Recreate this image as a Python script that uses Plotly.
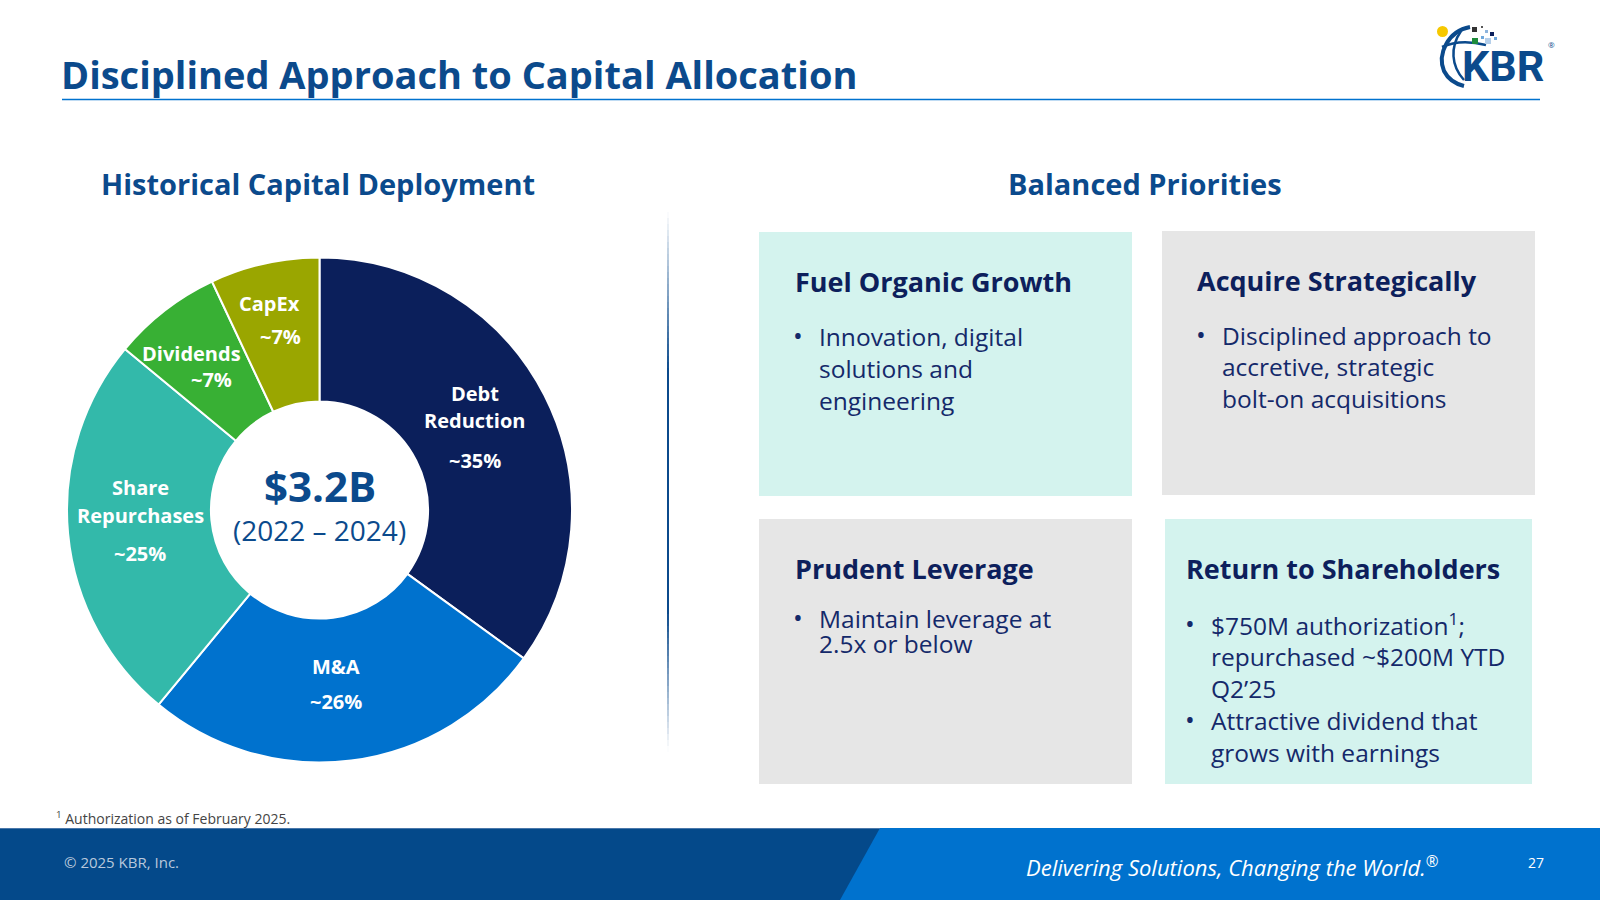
import plotly.graph_objects as go

# ---------------- data ----------------
categories = ["Debt Reduction", "M&A", "Share Repurchases", "Dividends", "CapEx"]
shares = [35, 26, 25, 7, 7]
pct_labels = ["~35%", "~26%", "~25%", "~7%", "~7%"]
slice_colors = ["#0B1F5B", "#0072CE", "#33B9AA", "#38B034", "#9AA600"]
total_label = "$3.2B"
period_label = "(2022 – 2024)"

title_text = "Disciplined Approach to Capital Allocation"
left_heading = "Historical Capital Deployment"
right_heading = "Balanced Priorities"

box_titles = ["Fuel Organic Growth", "Acquire Strategically", "Prudent Leverage", "Return to Shareholders"]
box_bullets = [
    [["Innovation, digital", "solutions and", "engineering"]],
    [["Disciplined approach to", "accretive, strategic", "bolt-on acquisitions"]],
    [["Maintain leverage at", "2.5x or below"]],
    [["$750M authorization<sup>1</sup>;", "repurchased ~$200M YTD", "Q2’25"],
     ["Attractive dividend that", "grows with earnings"]],
]
footnote = "<sup>1</sup> Authorization as of February 2025."
copyright_text = "© 2025 KBR, Inc."
tagline = "<i>Delivering Solutions, Changing the World.<sup>®</sup></i>"
page_no = "27"

# ---------------- styles ----------------
FONT = "Open Sans"
BLUE = "#0B4A8C"
NAVY = "#0D1F5C"
TEXT_NAVY = "#14296A"
MINT = "#D4F3EE"
GRAY = "#E6E6E6"

W, H = 1600, 900
cx, cy, R = 319.5, 510.0, 252.5

fig = go.Figure()

fig.add_trace(go.Pie(
    labels=categories,
    values=shares,
    sort=False,
    direction="clockwise",
    rotation=0,
    hole=0.43,
    marker=dict(colors=slice_colors, line=dict(color="white", width=2)),
    textinfo="none",
    hoverinfo="label+percent",
    showlegend=False,
    domain=dict(x=[(cx - R) / W, (cx + R) / W], y=[1 - (cy + R) / H, 1 - (cy - R) / H]),
))

shapes = []
annotations = []


def txt(x, y, text, size, color, bold=False, xanchor="center", yanchor="middle", family=FONT):
    if bold:
        text = "<b>" + text + "</b>"
    annotations.append(dict(
        x=x, y=y, xref="x", yref="y", text=text, showarrow=False,
        xanchor=xanchor, yanchor=yanchor,
        font=dict(family=family, size=size, color=color),
    ))


def rect(x0, y0, x1, y1, color, layer="below"):
    shapes.append(dict(type="rect", xref="x", yref="y", x0=x0, y0=y0, x1=x1, y1=y1,
                       fillcolor=color, line=dict(width=0), layer=layer))


# header
txt(59, 74, title_text, 38, BLUE, bold=True, xanchor="left")
shapes.append(dict(type="line", xref="x", yref="y", x0=62, x1=1540, y0=99.5, y1=99.5,
                   line=dict(color="#0072CE", width=1.5)))

# logo (approximate)
shapes.append(dict(type="path", xref="x", yref="y",
                   path="M 1470 27 C 1448 31, 1437 54, 1444 71 C 1448 79, 1456 84, 1464 86",
                   line=dict(color=BLUE, width=4), layer="above"))
shapes.append(dict(type="path", xref="x", yref="y",
                   path="M 1442 47 C 1455 41, 1470 41, 1486 45",
                   line=dict(color=BLUE, width=2.5), layer="above"))
shapes.append(dict(type="path", xref="x", yref="y",
                   path="M 1461 31 C 1450 47, 1451 66, 1464 80",
                   line=dict(color=BLUE, width=2.5), layer="above"))
shapes.append(dict(type="circle", xref="x", yref="y", x0=1437, y0=26, x1=1448, y1=37,
                   fillcolor="#F6C800", line=dict(width=0), layer="above"))
for (x0, y0, s, c) in [(1472, 27, 5, "#333333"), (1481, 26, 2, "#555555"), (1485, 30, 3, "#8EB4DC"),
                       (1490, 32, 4, "#0B1F5B"), (1472, 38, 6, "#1E8B3A"), (1481, 36, 3, "#6FA8DC"),
                       (1485, 38, 6, "#B5CFEA"), (1494, 37, 3, "#6FA8DC")]:
    rect(x0, y0, x0 + s, y0 + s, c, layer="above")
txt(1503, 66, "KBR", 43, BLUE, bold=True, family="Roboto")
txt(1551, 44, "®", 8, BLUE)

# headings
txt(318, 183, left_heading, 29, BLUE, bold=True)
txt(1145, 183, right_heading, 29, BLUE, bold=True)

# divider with fading ends
seg_y = list(range(212, 752, 6))
for y0 in seg_y:
    ym = y0 + 3
    if ym < 370:
        a = max(0.0, (ym - 212) / (370 - 212))
    elif ym > 612:
        a = max(0.0, (750 - ym) / (750 - 612))
    else:
        a = 1.0
    shapes.append(dict(type="line", xref="x", yref="y", x0=668, x1=668, y0=y0, y1=y0 + 6,
                       line=dict(color=f"rgba(11,74,140,{a:.2f})", width=2)))

# pie labels
LBL = dict(size=20, color="white", bold=True)
txt(474.5, 393, "Debt", **LBL)
txt(474.5, 420, "Reduction", **LBL)
txt(474.5, 460, pct_labels[0], **LBL)
txt(336, 666, "M&A", **LBL)
txt(336, 701, pct_labels[1], **LBL)
txt(140, 487, "Share", **LBL)
txt(140, 515, "Repurchases", **LBL)
txt(140, 553, pct_labels[2], **LBL)
txt(191, 353, "Dividends", **LBL)
txt(211, 379, pct_labels[3], **LBL)
txt(269.5, 303, "CapEx", **LBL)
txt(280, 336, pct_labels[4], **LBL)

# centre
txt(cx, 485, total_label, 42, BLUE, bold=True)
txt(cx, 530, period_label, 28, BLUE)

# priority boxes
boxes = [
    dict(x0=759, y0=232, x1=1132, y1=496, color=MINT, tx=793, ty=281, bx=798, lx=817, ly=336, sp=32),
    dict(x0=1162, y0=231, x1=1535, y1=495, color=GRAY, tx=1195, ty=280, bx=1201, lx=1220, ly=335, sp=31.5),
    dict(x0=759, y0=519, x1=1132, y1=784, color=GRAY, tx=793, ty=568, bx=798, lx=817, ly=618, sp=25),
    dict(x0=1165, y0=519, x1=1532, y1=784, color=MINT, tx=1184, ty=568, bx=1190, lx=1209, ly=624, sp=32),
]
for b, title, bullets in zip(boxes, box_titles, box_bullets):
    rect(b["x0"], b["y0"], b["x1"], b["y1"], b["color"])
    txt(b["tx"], b["ty"], title, 27, NAVY, bold=True, xanchor="left")
    y = b["ly"]
    for lines in bullets:
        txt(b["bx"], y - 1, "•", 26, TEXT_NAVY)
        for line in lines:
            txt(b["lx"], y, line, 24.5, TEXT_NAVY, xanchor="left")
            y += b["sp"]

# footnote
txt(54, 818, footnote, 14, "#444444", xanchor="left")

# footer band
rect(0, 828, W, H, "#0072CE", layer="above")
shapes.append(dict(type="path", xref="x", yref="y",
                   path="M 0 828 L 880 828 L 840 900 L 0 900 Z",
                   fillcolor="#04498A", line=dict(width=0), layer="above"))
shapes.append(dict(type="line", xref="x", yref="y", x0=0, x1=880, y0=828.5, y1=828.5,
                   line=dict(color="#4A78AA", width=1), layer="above"))
txt(62, 862, copyright_text, 15, "#B8C8DC", xanchor="left")
txt(1441, 866, tagline, 22, "white", xanchor="right")
txt(1536, 862, page_no, 14, "white")

fig.update_layout(
    width=W, height=H,
    margin=dict(l=0, r=0, t=0, b=0),
    paper_bgcolor="white", plot_bgcolor="rgba(0,0,0,0)",
    xaxis=dict(range=[0, W], visible=False, fixedrange=True),
    yaxis=dict(range=[H, 0], visible=False, fixedrange=True),
    shapes=shapes,
    annotations=annotations,
    font=dict(family=FONT),
)

fig.write_html("out.html")
